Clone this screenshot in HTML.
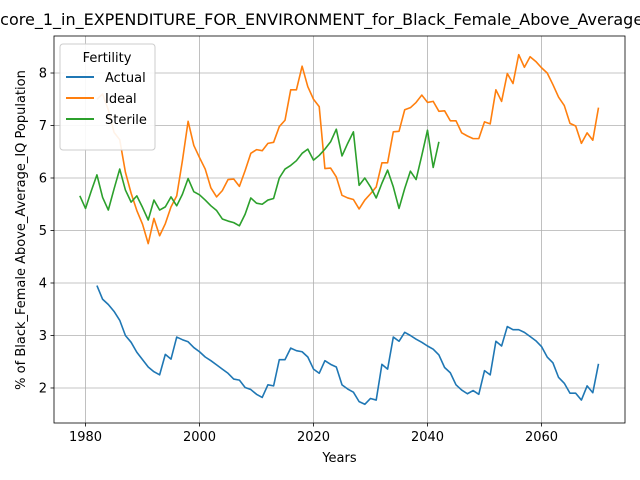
<!DOCTYPE html>
<html><head><meta charset="utf-8"><style>
body{margin:0;background:#fff;}
svg{display:block;font-family:"DejaVu Sans","Liberation Sans",sans-serif;}
</style></head><body>
<svg id="chart" width="640" height="480" viewBox="0 0 640 480" xmlns="http://www.w3.org/2000/svg">
<text x="-10" y="25" font-size="16" text-anchor="start">Score_1_in_EXPENDITURE_FOR_ENVIRONMENT_for_Black_Female_Above_Average_IQ_Population</text>
<g id="grid"></g>
<g id="series"></g>
<rect x="54" y="36" width="571" height="387" fill="none" stroke="#000" stroke-width="0.8"/>
<g id="ticks" font-size="13"></g>
<text x="339.5" y="462" font-size="13" text-anchor="middle">Years</text>
<text transform="translate(25,230) rotate(-90)" font-size="13" text-anchor="middle">% of Black_Female Above_Average_IQ Population</text>
<g>
<rect x="60" y="44" width="95" height="106" rx="3" fill="#fff" fill-opacity="0.9" stroke="#ccc"/>
<text x="107" y="62" font-size="13" text-anchor="middle">Fertility</text>
<line x1="66" y1="77" x2="94" y2="77" stroke="#1f77b4" stroke-width="2"/>
<text x="105" y="82" font-size="13">Actual</text>
<line x1="66" y1="98" x2="94" y2="98" stroke="#ff7f0e" stroke-width="2"/>
<text x="105" y="103" font-size="13">Ideal</text>
<line x1="66" y1="119" x2="94" y2="119" stroke="#2ca02c" stroke-width="2"/>
<text x="105" y="124" font-size="13">Sterile</text>
</g>
</svg>
<script>
const actualStart = 1982;
const actualValues = [3.95,3.69,3.59,3.46,3.29,3.0,2.87,2.68,2.54,2.40,2.31,2.25,2.64,2.55,2.97,2.92,2.88,2.77,2.69,2.59,2.52,2.44,2.36,2.28,2.17,2.15,2.01,1.97,1.88,1.82,2.06,2.04,2.54,2.54,2.76,2.71,2.69,2.59,2.36,2.28,2.52,2.45,2.40,2.06,1.98,1.92,1.74,1.69,1.80,1.77,2.45,2.36,2.97,2.89,3.06,3.0,2.93,2.87,2.80,2.74,2.63,2.39,2.29,2.06,1.96,1.89,1.95,1.88,2.33,2.25,2.89,2.80,3.17,3.11,3.11,3.06,2.98,2.90,2.79,2.59,2.48,2.20,2.09,1.90,1.90,1.77,2.04,1.91,2.46];
const idealStart = 1982;
const idealValues = [7.5,7.6,7.3,6.87,6.73,6.11,5.71,5.38,5.12,4.75,5.23,4.90,5.13,5.45,5.66,6.33,7.08,6.62,6.39,6.17,5.81,5.64,5.76,5.97,5.98,5.84,6.14,6.47,6.54,6.52,6.66,6.68,6.98,7.10,7.68,7.68,8.13,7.74,7.5,7.36,6.18,6.19,6.02,5.67,5.62,5.59,5.41,5.58,5.70,5.83,6.29,6.29,6.88,6.89,7.30,7.34,7.44,7.58,7.44,7.46,7.27,7.28,7.09,7.09,6.86,6.80,6.75,6.75,7.07,7.03,7.68,7.46,7.99,7.80,8.35,8.11,8.31,8.22,8.10,8.0,7.78,7.54,7.38,7.04,6.99,6.66,6.86,6.72,7.34];
const sterileStart = 1979;
const sterileValues = [5.66,5.42,5.75,6.06,5.63,5.39,5.79,6.17,5.77,5.54,5.66,5.44,5.20,5.58,5.39,5.45,5.64,5.47,5.69,5.99,5.74,5.68,5.58,5.47,5.38,5.22,5.18,5.15,5.09,5.31,5.62,5.52,5.50,5.58,5.61,6.00,6.17,6.24,6.33,6.47,6.55,6.34,6.43,6.55,6.69,6.93,6.42,6.66,6.88,5.86,6.0,5.83,5.62,5.90,6.15,5.83,5.42,5.80,6.13,5.97,6.43,6.91,6.20,6.69];
const xTicks = [1980,2000,2020,2040,2060];
const yTicks = [2,3,4,5,6,7,8];

const NS = "http://www.w3.org/2000/svg";
const X0 = 54, X1 = 625, Y0 = 36, Y1 = 423;
const xMin = 1974.47, xMax = 2074.65, yMin = 1.333, yMax = 8.705;
function xs(v){ return X0 + (v - xMin) / (xMax - xMin) * (X1 - X0); }
function ys(v){ return Y1 - (v - yMin) / (yMax - yMin) * (Y1 - Y0); }
const grid = document.getElementById('grid');
const ticks = document.getElementById('ticks');
const series = document.getElementById('series');
function mk(tag, attrs, parent){ const e = document.createElementNS(NS, tag); for (const k in attrs) e.setAttribute(k, attrs[k]); parent.appendChild(e); return e; }
xTicks.forEach(t => {
  const x = xs(t);
  const g = mk('line', {x1:x, x2:x, y1:Y0, y2:Y1, stroke:'#b0b0b0', 'stroke-width':0.8}, grid);
  
  
  mk('line', {x1:x, x2:x, y1:Y1, y2:Y1+3.5, stroke:'#000', 'stroke-width':0.8}, ticks);
  const l = mk('text', {x:x, y:Y1+18, 'text-anchor':'middle'}, ticks);
  l.textContent = t;
  
  
});
yTicks.forEach(t => {
  const y = ys(t);
  const g = mk('line', {x1:X0, x2:X1, y1:y, y2:y, stroke:'#b0b0b0', 'stroke-width':0.8}, grid);
  
  
  mk('line', {x1:X0-3.5, x2:X0, y1:y, y2:y, stroke:'#000', 'stroke-width':0.8}, ticks);
  const l = mk('text', {x:X0-7, y:y+4.5, 'text-anchor':'end'}, ticks);
  l.textContent = t;
  
  
});
function drawLine(start, vals, color, name){
  const pts = vals.map((v,i) => xs(start + i).toFixed(2) + ',' + ys(v).toFixed(2)).join(' ');
  const p = mk('polyline', {points:pts, fill:'none', stroke:color, 'stroke-width':1.6, 'stroke-linejoin':'round'}, series);
  
  
}
drawLine(actualStart, actualValues, '#1f77b4', 'actual-line');
drawLine(idealStart, idealValues, '#ff7f0e', 'ideal-line');
drawLine(sterileStart, sterileValues, '#2ca02c', 'sterile-line');
</script>
</body></html>
